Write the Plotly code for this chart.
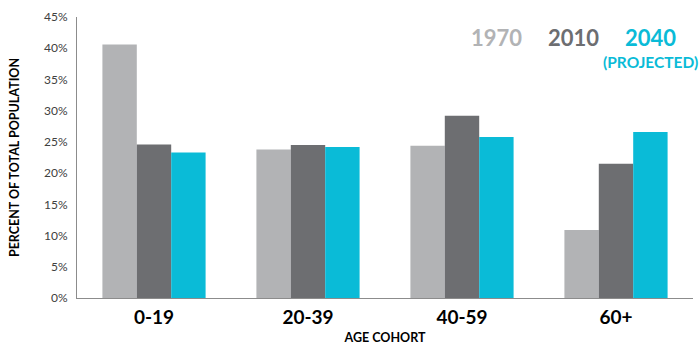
import plotly.graph_objects as go

categories = ["0-19", "20-39", "40-59", "60+"]
years = ["1970", "2010", "2040"]
v1970 = [40.6, 23.8, 24.4, 10.9]
v2010 = [24.6, 24.5, 29.2, 21.5]
v2040 = [23.3, 24.2, 25.8, 26.6]
colors = ["#b2b3b5", "#6d6e71", "#0abbd7"]
tick_vals = [0, 5, 10, 15, 20, 25, 30, 35, 40, 45]
tick_text = [f"{v}%" for v in tick_vals]

FONT = "Lato"
fig = go.Figure()
for name, vals, c in zip(years, [v1970, v2010, v2040], colors):
    fig.add_trace(go.Bar(x=categories, y=vals, name=name, marker=dict(color=c, line=dict(width=0))))

fig.update_layout(
    width=699, height=345,
    margin=dict(l=77, r=6, t=17, b=47),
    paper_bgcolor="white", plot_bgcolor="white",
    barmode="group", bargap=0.33, bargroupgap=0,
    showlegend=False,
    font=dict(family=FONT, color="#000000"),
)
fig.update_yaxes(
    automargin=False,
    range=[0, 45], tickvals=tick_vals, ticktext=tick_text,
    showgrid=False, zeroline=False, showline=True, linecolor="#8c8c8c", linewidth=1,
    ticks="", tickfont=dict(size=12, color="#404040", family=FONT), ticklabelstandoff=6,
    title=dict(text="<b>PERCENT OF TOTAL POPULATION</b>", font=dict(size=12.5, family=FONT, color="#000"), standoff=21),
)
fig.update_xaxes(
    automargin=False,
    showgrid=False, showline=True, linecolor="#8c8c8c", linewidth=1, ticks="",
    tickfont=dict(size=19, family=FONT, color="#000", weight="bold"), ticklabelstandoff=2,
    title=dict(text="<b>AGE COHORT</b>", font=dict(size=12.5, family=FONT, color="#000"), standoff=6),
)

legend_items = [("1970", colors[0], 496), ("2010", colors[1], 573), ("2040", colors[2], 650)]
for txt, c, xp in legend_items:
    fig.add_annotation(xref="paper", yref="paper", x=(xp - 77) / 616, y=(298 - 37) / 281,
                       text=f"<b>{txt}</b>", showarrow=False, xanchor="center", yanchor="middle",
                       font=dict(size=22, color=c, family=FONT))
fig.add_annotation(xref="paper", yref="paper", x=(650 - 77) / 616, y=(298 - 62) / 281,
                   text="<b>(PROJECTED)</b>", showarrow=False, xanchor="center", yanchor="middle",
                   font=dict(size=15.5, color=colors[2], family=FONT))

fig.write_html("out.html")
